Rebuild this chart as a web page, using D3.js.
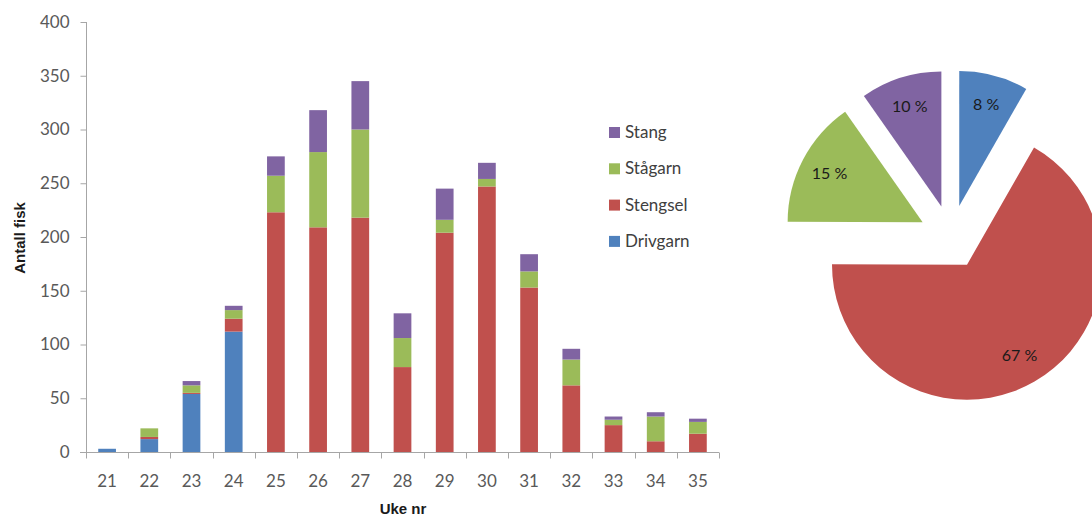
<!DOCTYPE html>
<html>
<head>
<meta charset="utf-8">
<script src="https://cdn.jsdelivr.net/npm/d3@7"></script>
<style>
  html, body { margin: 0; padding: 0; background: #fff; }
  svg { display: block; }
  text { font-family: Lato, "Noto Sans", sans-serif; }
</style>
</head>
<body>
<svg id="chart" width="1092" height="517"></svg>
<script>
// Weekly catch by gear type
const weeks    = [21, 22, 23, 24, 25, 26, 27, 28, 29, 30, 31, 32, 33, 34, 35];
const drivgarn = [3, 12, 54, 112, 0, 0, 0, 0, 0, 0, 0, 0, 0, 0, 0];
const stengsel = [0, 2, 1, 12, 223, 209, 218, 79, 204, 247, 153, 62, 25, 10, 17];
const stagarn  = [0, 8, 7, 8, 34, 70, 82, 27, 12, 7, 15, 24, 5, 23, 11];
const stang    = [0, 0, 4, 4, 18, 39, 45, 23, 29, 15, 16, 10, 3, 4, 3];

const seriesNames = ["Drivgarn", "Stengsel", "Stågarn", "Stang"];
const seriesColors = ["#4F81BD", "#C0504D", "#9BBB59", "#8064A2"];
const yTicks = [0, 50, 100, 150, 200, 250, 300, 350, 400];

const svg = d3.select("#chart");
const axisColor = "#a6a6a6";
const labelColor = "#595959";

// ---- Stacked bar chart ----
const x = d3.scaleBand().domain(weeks).range([86, 719]).paddingInner(0.58).paddingOuter(0.29);
const y = d3.scaleLinear().domain([0, 400]).range([452, 22]);

const rows = weeks.map((w, i) => ({
  week: w, Drivgarn: drivgarn[i], Stengsel: stengsel[i], "Stågarn": stagarn[i], Stang: stang[i]
}));
const stack = d3.stack().keys(seriesNames)(rows);

const barG = svg.append("g");
stack.forEach((layer, k) => {
  barG.selectAll(null).data(layer).join("rect")
    .attr("x", d => x(d.data.week))
    .attr("width", x.bandwidth())
    .attr("y", d => y(d[1]))
    .attr("height", d => y(d[0]) - y(d[1]))
    .attr("fill", seriesColors[k]);
});

// y axis
const yAxis = svg.append("g").attr("transform", "translate(86.5,0)")
  .call(d3.axisLeft(y).tickValues(yTicks).tickSize(6).tickPadding(11));
yAxis.select(".domain").attr("stroke", axisColor).attr("d", `M0,${y(400)}V${y(0)}`);
yAxis.selectAll(".tick line").attr("stroke", axisColor);
yAxis.selectAll(".tick text").attr("fill", labelColor).style("font-size", "17px")
  .style("font-family", "Lato, sans-serif");

// x axis: labels at band centres, tick marks at category boundaries
const xAxis = svg.append("g").attr("transform", "translate(0,452.5)")
  .call(d3.axisBottom(x).tickSize(0).tickPadding(22));
xAxis.select(".domain").attr("stroke", axisColor).attr("d", "M80,0H719");
xAxis.selectAll(".tick text").attr("fill", labelColor).style("font-size", "17px")
  .style("font-family", "Lato, sans-serif");
const step = x.step();
const bounds = d3.range(weeks.length + 1).map(i => x.range()[0] + i * step);
xAxis.selectAll(".bound").data(bounds).join("line")
  .attr("x1", d => Math.round(d) + 0.5).attr("x2", d => Math.round(d) + 0.5)
  .attr("y1", 0).attr("y2", 6).attr("stroke", axisColor);

// axis titles
svg.append("text").attr("x", 403).attr("y", 514).attr("text-anchor", "middle")
  .style("font-family", "'Liberation Sans', Arial, sans-serif")
  .style("font-weight", "bold").style("font-size", "15px").attr("fill", "#1a1a1a")
  .text("Uke nr");
svg.append("text").attr("transform", "translate(25,238) rotate(-90)").attr("text-anchor", "middle")
  .style("font-family", "'Liberation Sans', Arial, sans-serif")
  .style("font-weight", "bold").style("font-size", "15px").attr("fill", "#1a1a1a")
  .text("Antall fisk");

// legend (top to bottom: reverse stacking order)
const legendItems = seriesNames.map((n, i) => ({ name: n, color: seriesColors[i] })).reverse();
const legend = svg.append("g");
legendItems.forEach((it, i) => {
  const cy = 132 + i * 36.3;
  legend.append("rect").attr("x", 609).attr("y", cy - 5).attr("width", 11).attr("height", 11)
    .attr("fill", it.color);
  legend.append("text").attr("x", 625).attr("y", cy).attr("dy", "0.35em")
    .style("font-size", "17px").attr("fill", "#404040").text(it.name);
});

// ---- Exploded pie of season totals ----
const totals = [drivgarn, stengsel, stagarn, stang].map(a => d3.sum(a));
const grand = d3.sum(totals);
const pieData = d3.pie().sort(null).value(d => d)(totals);
const R = 135, explode = 32;
const cx = 951, cy = 237;
const arc = d3.arc().innerRadius(0).outerRadius(R);
const labelArc = d3.arc().innerRadius(105).outerRadius(105);

const pieG = svg.append("g").attr("transform", `translate(${cx},${cy})`);
pieData.forEach((p, i) => {
  const mid = (p.startAngle + p.endAngle) / 2;
  const dx = Math.sin(mid) * explode, dy = -Math.cos(mid) * explode;
  const g = pieG.append("g").attr("transform", `translate(${dx},${dy})`);
  g.append("path").attr("d", arc(p)).attr("fill", seriesColors[i]);
  const c = labelArc.centroid(p);
  g.append("text").attr("x", c[0]).attr("y", c[1]).attr("dy", "0.35em")
    .attr("text-anchor", "middle").style("font-size", "16px").attr("fill", "#1a1a1a")
    .text(Math.round(p.value / grand * 100) + " %");
});
</script>
</body>
</html>
